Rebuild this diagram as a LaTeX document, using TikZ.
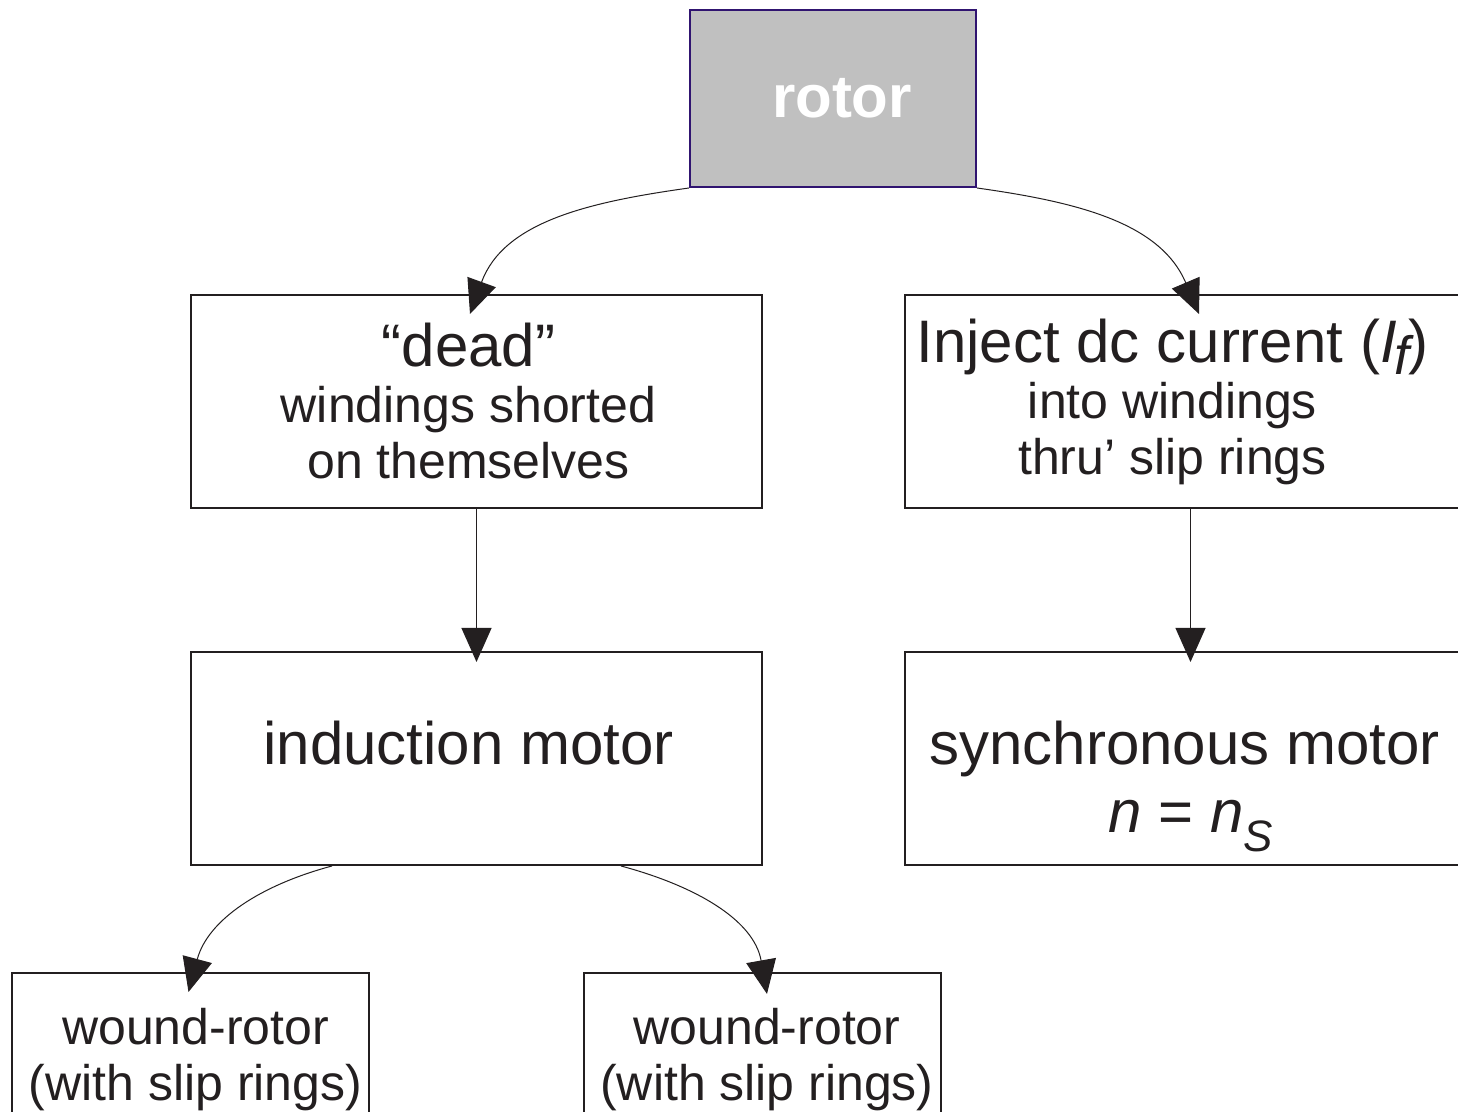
\documentclass[tikz,border=0pt]{standalone}
\usepackage{fontspec}
\setmainfont{Liberation Sans}
\usetikzlibrary{arrows.meta}

\definecolor{inkdark}{RGB}{35,31,32}
\definecolor{rotorfill}{RGB}{192,192,192}
\definecolor{rotorline}{RGB}{48,20,112}

\tikzset{
  box/.style={rectangle, draw=inkdark, line width=1pt, align=center, text=inkdark,
    inner sep=0pt, minimum width=285.5pt, minimum height=106.5pt,
    font=\fontsize{25}{28}\selectfont},
  small box/.style={box, minimum width=178.5pt, minimum height=87pt},
  big font/.style={font=\fontsize{30}{34}\selectfont},
  motor text/.style={text height=20pt, text depth=13.5pt},
  link/.style={draw=inkdark, line width=0.5pt, -{Triangle[length=17pt,width=15pt]}}
}
\newcommand{\headline}[1]{{\fontsize{30}{34}\selectfont #1}}

\begin{document}
\begin{tikzpicture}[x=0.5pt,y=0.5pt]
    \clip (0,0) rectangle (1458,1112);
    \fill[white] (0,0) rectangle (1458,1112);

    \node[rectangle, draw=rotorline, line width=1pt, fill=rotorfill, text=white,
          minimum width=143pt, minimum height=88.5pt,
          font=\fontsize{30}{34}\selectfont\bfseries] (rotor) at (833,1013.5) {\hspace*{9pt}rotor};

    \node[box] (dead) at (476.5,710.5) {\headline{“dead”}\kern8pt\\ windings shorted\kern8pt\\ on themselves\kern8pt};
    \node[box] (inject) at (1190.5,710.5) {\headline{Inject dc current (\textit{I}\kern-1pt\raisebox{-6pt}{\fontsize{27}{27}\selectfont\textit{f}}\kern-3pt)}\kern18pt\\ into windings\kern18pt\\ thru’ slip rings\kern18pt};

    \node[box, big font, motor text] (induction) at (476.5,353.5) {induction motor\kern8pt};
    \node[box, big font, text height=74.5pt, text depth=0pt] (synch) at (1190.5,353.5) {synchronous motor\kern6pt\\ \textit{n} = \textit{n}\raisebox{-9.5pt}{\fontsize{22}{22}\selectfont\textit{S}}};

    \node[small box] (leftw) at (190.5,52) {\kern5pt wound-rotor\\ \kern5pt(with slip rings)};
    \node[small box] (rightw) at (762,52) {\kern5pt wound-rotor\\ \kern5pt(with slip rings)};

    \draw[link] (rotor.south west) to[out=188,in=70] ([shift={(-6.5,-20)}]dead.north);
    \draw[link] (rotor.south east) to[out=-8,in=113] ([shift={(8.5,-20)}]inject.north);
    \draw[link] (dead.south) -- ([yshift=-5.5pt]induction.north);
    \draw[link] (inject.south) -- ([yshift=-5.5pt]synch.north);
    \draw[link] ([xshift=71pt]induction.south west) to[out=195,in=75] ([shift={(-2,-20)}]leftw.north);
    \draw[link] ([xshift=-71pt]induction.south east) to[out=-15,in=100] ([shift={(5,-22)}]rightw.north);
\end{tikzpicture}
\end{document}
